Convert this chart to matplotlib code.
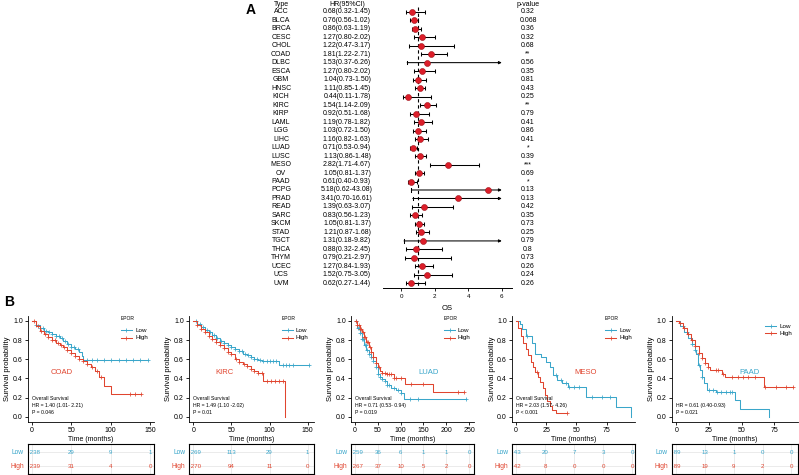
import numpy as np
import matplotlib
matplotlib.use('Agg')
import matplotlib.pyplot as plt
from matplotlib.transforms import blended_transform_factory
from matplotlib.lines import Line2D

plt.rcParams['font.family'] = ['Liberation Sans', 'DejaVu Sans']

# ---------------- Panel A data ----------------
types = ['ACC', 'BLCA', 'BRCA', 'CESC', 'CHOL', 'COAD', 'DLBC', 'ESCA', 'GBM', 'HNSC',
         'KICH', 'KIRC', 'KIRP', 'LAML', 'LGG', 'LIHC', 'LUAD', 'LUSC', 'MESO', 'OV',
         'PAAD', 'PCPG', 'PRAD', 'READ', 'SARC', 'SKCM', 'STAD', 'TGCT', 'THCA', 'THYM',
         'UCEC', 'UCS', 'UVM']
hr = [0.68, 0.76, 0.86, 1.27, 1.22, 1.81, 1.53, 1.27, 1.04, 1.11, 0.44, 1.54, 0.92, 1.19,
      1.03, 1.16, 0.71, 1.13, 2.82, 1.05, 0.61, 5.18, 3.41, 1.39, 0.83, 1.05, 1.21, 1.31,
      0.88, 0.79, 1.27, 1.52, 0.62]
ci_lo = [0.32, 0.56, 0.63, 0.80, 0.47, 1.22, 0.37, 0.80, 0.73, 0.85, 0.11, 1.14, 0.51, 0.78,
         0.72, 0.82, 0.53, 0.86, 1.71, 0.81, 0.40, 0.62, 0.70, 0.63, 0.56, 0.81, 0.87, 0.18,
         0.32, 0.21, 0.84, 0.75, 0.27]
ci_hi = [1.45, 1.02, 1.19, 2.02, 3.17, 2.71, 6.26, 2.02, 1.50, 1.45, 1.78, 2.09, 1.68, 1.82,
         1.50, 1.63, 0.94, 1.48, 4.67, 1.37, 0.93, 43.08, 16.61, 3.07, 1.23, 1.37, 1.68, 9.82,
         2.45, 2.97, 1.93, 3.05, 1.44]
pvals = ['0.32', '0.068', '0.36', '0.32', '0.68', '**', '0.56', '0.35', '0.81', '0.43',
         '0.25', '**', '0.79', '0.41', '0.86', '0.41', '*', '0.39', '***', '0.69',
         '*', '0.13', '0.13', '0.42', '0.35', '0.73', '0.25', '0.79', '0.8', '0.73',
         '0.26', '0.24', '0.26']
forest_ticks = [0, 2, 4, 6]
forest_clip = 6

# ---------------- Panel B data ----------------
km_names = ['COAD', 'KIRC', 'LUAD', 'MESO', 'PAAD']
km_label_group = ['High', 'High', 'Low', 'High', 'Low']
km_xticks = [[0, 50, 100, 150], [0, 50, 100, 150], [0, 50, 100, 150, 200, 250],
             [0, 25, 50, 75], [0, 25, 50, 75]]
km_hr_text = ['HR = 1.40 (1.01- 2.21)', 'HR = 1.49 (1.10 -2.02)', 'HR = 0.71 (0.53- 0.94)',
              'HR = 2.03 (1.57- 4.26)', 'HR = 0.61 (0.40-0.93)']
km_p_text = ['P = 0.046', 'P = 0.01', 'P = 0.019', 'P < 0.001', 'P = 0.021']
km_has_title = [True, True, True, True, False]

coad_low_t = [0, 5, 10, 15, 20, 25, 30, 35, 40, 45, 50, 55, 60, 63, 65, 148]
coad_low_s = [1, 0.96, 0.93, 0.90, 0.88, 0.86, 0.84, 0.82, 0.79, 0.76, 0.73, 0.71, 0.68, 0.63, 0.59, 0.59]
coad_low_c = [5, 10, 14, 18, 22, 26, 30, 34, 38, 42, 46, 50, 54, 58, 70, 76, 82, 91, 101, 110, 119, 129, 137, 148]
coad_high_t = [0, 5, 10, 15, 20, 25, 30, 35, 40, 45, 50, 55, 60, 65, 70, 75, 80, 85, 92, 101, 138]
coad_high_s = [1, 0.95, 0.90, 0.86, 0.83, 0.80, 0.77, 0.75, 0.73, 0.70, 0.67, 0.63, 0.60, 0.58, 0.55, 0.52, 0.48, 0.41, 0.32, 0.24, 0.24]
coad_high_c = [3, 7, 12, 16, 20, 25, 29, 33, 37, 41, 45, 50, 55, 60, 65, 70, 76, 83, 88, 125, 131, 138]

kirc_low_t = [0, 5, 10, 15, 20, 25, 30, 35, 40, 45, 50, 55, 60, 65, 70, 75, 80, 85, 90, 113, 152]
kirc_low_s = [1, 0.97, 0.94, 0.91, 0.88, 0.85, 0.82, 0.79, 0.77, 0.75, 0.73, 0.71, 0.69, 0.66, 0.64, 0.62, 0.60, 0.59, 0.58, 0.545, 0.545]
kirc_low_c = [4, 9, 13, 18, 22, 27, 31, 36, 40, 45, 50, 55, 60, 64, 68, 72, 76, 80, 84, 88, 92, 96, 100, 104, 108, 117, 121, 126, 131, 152]
kirc_high_t = [0, 5, 10, 15, 20, 25, 30, 35, 40, 45, 50, 55, 60, 65, 70, 75, 80, 85, 92, 120]
kirc_high_s = [1, 0.96, 0.92, 0.88, 0.84, 0.81, 0.78, 0.75, 0.72, 0.68, 0.65, 0.60, 0.57, 0.55, 0.53, 0.50, 0.48, 0.46, 0.37, 0.0]
kirc_high_c = [5, 10, 15, 20, 25, 30, 35, 40, 45, 50, 56, 60, 66, 70, 75, 80, 85, 90, 97, 102, 107, 112, 117]

luad_low_t = [0, 5, 10, 15, 20, 25, 30, 35, 40, 45, 50, 55, 60, 65, 70, 80, 90, 100, 107, 243]
luad_low_s = [1, 0.93, 0.87, 0.81, 0.75, 0.70, 0.66, 0.62, 0.58, 0.52, 0.45, 0.41, 0.39, 0.37, 0.33, 0.30, 0.28, 0.25, 0.18, 0.18]
luad_low_c = [3, 6, 9, 12, 15, 18, 21, 24, 27, 30, 35, 40, 45, 50, 55, 60, 65, 70, 75, 85, 95, 100, 120, 138, 243]
luad_high_t = [0, 5, 10, 15, 20, 25, 30, 35, 40, 45, 50, 55, 60, 70, 85, 110, 170, 240]
luad_high_s = [1, 0.96, 0.92, 0.88, 0.83, 0.78, 0.73, 0.68, 0.62, 0.56, 0.52, 0.48, 0.46, 0.45, 0.40, 0.34, 0.26, 0.26]
luad_high_c = [2, 5, 8, 11, 14, 17, 20, 23, 26, 29, 32, 36, 40, 45, 52, 60, 65, 70, 75, 80, 86, 90, 100, 122, 150, 225, 240]

meso_low_t = [0, 3, 5, 8, 13, 16, 21, 25, 28, 31, 34, 38, 43, 58, 83, 95]
meso_low_s = [1, 0.97, 0.92, 0.84, 0.77, 0.66, 0.62, 0.57, 0.52, 0.44, 0.38, 0.35, 0.31, 0.21, 0.105, 0.0]
meso_low_c = [9, 33, 37, 41, 44, 48, 52, 63, 71, 78]
meso_high_t = [0, 2, 4, 6, 8, 10, 12, 14, 16, 18, 20, 22, 24, 26, 28, 30, 33, 42]
meso_high_s = [1, 0.93, 0.84, 0.77, 0.71, 0.64, 0.57, 0.52, 0.47, 0.42, 0.36, 0.30, 0.23, 0.16, 0.11, 0.07, 0.035, 0.035]
meso_high_c = [17, 42]

paad_low_t = [0, 3, 6, 9, 12, 14, 15, 16.5, 18, 20, 21.5, 23.5, 30, 45, 49, 71]
paad_low_s = [1, 0.95, 0.88, 0.82, 0.76, 0.70, 0.66, 0.54, 0.49, 0.42, 0.35, 0.28, 0.26, 0.17, 0.08, 0.0]
paad_low_c = [5, 8, 12, 14, 17, 20, 25, 28, 31, 34, 38, 41, 43]
paad_high_t = [0, 2, 5, 8, 11, 14, 17, 20, 22, 24, 26, 35, 37, 67, 89]
paad_high_s = [1, 0.98, 0.93, 0.86, 0.80, 0.74, 0.67, 0.61, 0.56, 0.52, 0.49, 0.45, 0.42, 0.31, 0.31]
paad_high_c = [3, 6, 9, 12, 14, 17, 20, 22, 24, 30, 32, 36, 43, 47, 51, 55, 60, 68, 76, 84, 89]

km_low = [(coad_low_t, coad_low_s, coad_low_c), (kirc_low_t, kirc_low_s, kirc_low_c),
          (luad_low_t, luad_low_s, luad_low_c), (meso_low_t, meso_low_s, meso_low_c),
          (paad_low_t, paad_low_s, paad_low_c)]
km_high = [(coad_high_t, coad_high_s, coad_high_c), (kirc_high_t, kirc_high_s, kirc_high_c),
           (luad_high_t, luad_high_s, luad_high_c), (meso_high_t, meso_high_s, meso_high_c),
           (paad_high_t, paad_high_s, paad_high_c)]

risk_times = [[0, 50, 100, 150], [0, 50, 100, 150], [0, 50, 100, 150, 200, 250],
              [0, 24, 48, 72, 96], [0, 22, 44, 66, 88]]
risk_low = [[238, 29, 9, 1], [269, 113, 29, 1], [259, 36, 6, 1, 1, 0],
            [43, 20, 7, 3, 0], [89, 13, 1, 0, 0]]
risk_high = [[239, 31, 4, 0], [270, 94, 11, 0], [267, 37, 10, 5, 2, 0],
             [42, 8, 0, 0, 0], [89, 19, 9, 2, 0]]

# ---------------- layout / style ----------------
W, H = 799, 475
C_LOW = '#3AA6CA'
C_HIGH = '#E0452F'
C_DOT = '#DC1E2A'

fig = plt.figure(figsize=(W / 100, H / 100), dpi=100)


def fx(x):
    return x / W


def fy(y):
    return 1 - y / H


def ax_at(x0, y0, x1, y1):
    return fig.add_axes([fx(x0), fy(y1), (x1 - x0) / W, (y1 - y0) / H])


# ---------------- Panel A: forest ----------------
fa_x0, fa_x1, fa_zero, fa_scale = 383, 512, 401, 16.8
row0, rowstep, fa_bottom = 11.7, 8.49, 288
axf = ax_at(fa_x0, 0, fa_x1, fa_bottom)
axf.set_xlim((fa_x0 - fa_zero) / fa_scale, (fa_x1 - fa_zero) / fa_scale)
axf.set_ylim((fa_bottom - row0) / rowstep, (0 - row0) / rowstep)
for s in ['top', 'right', 'left']:
    axf.spines[s].set_visible(False)
axf.spines['bottom'].set_linewidth(0.7)
axf.set_yticks([])
axf.set_xticks(forest_ticks)
axf.tick_params(axis='x', labelsize=4.5, length=2.5, width=0.6, pad=2)
axf.set_xlabel('OS', fontsize=5.5, labelpad=4)
axf.patch.set_alpha(0)

n = len(types)
ys = np.arange(n)
axf.vlines(1, -0.5, (fa_bottom - row0) / rowstep, colors='black', linestyles=(0, (3, 2.5)), lw=0.8)
for i in range(n):
    lo, hi_ = ci_lo[i], ci_hi[i]
    if hi_ > forest_clip:
        axf.annotate('', xy=(forest_clip, i), xytext=(lo, i),
                     arrowprops=dict(arrowstyle='-|>', lw=0.75, color='black',
                                     mutation_scale=4, shrinkA=0, shrinkB=0))
        axf.plot([lo, lo], [i - 0.2, i + 0.2], color='black', lw=0.75)
    else:
        axf.errorbar(hr[i], i, xerr=[[hr[i] - lo], [hi_ - hr[i]]], fmt='none',
                     ecolor='black', elinewidth=0.75, capsize=1.2, capthick=0.75)
axf.plot(hr, ys, 'o', color=C_DOT, markeredgecolor='#9E1018', markeredgewidth=0.4,
         markersize=4.3, zorder=5)

tb = blended_transform_factory(fig.transFigure, axf.transData)
hdr = (4 - row0) / rowstep
fs_tab = 5
axf.text(fx(281), hdr, 'Type', transform=tb, ha='center', va='center', fontsize=fs_tab)
axf.text(fx(347), hdr, 'HR(95%CI)', transform=tb, ha='center', va='center', fontsize=fs_tab)
axf.text(fx(528), hdr, 'p-value', transform=tb, ha='center', va='center', fontsize=fs_tab)
for i in range(n):
    axf.text(fx(281), i, types[i], transform=tb, ha='center', va='center', fontsize=fs_tab)
    axf.text(fx(347), i, f'{hr[i]:.2f}({ci_lo[i]:.2f}-{ci_hi[i]:.2f})', transform=tb,
             ha='center', va='center', fontsize=fs_tab)
    axf.text(fx(528), i, pvals[i], transform=tb, ha='center', va='center', fontsize=fs_tab)

fig.text(fx(246), fy(10), 'A', fontsize=10, fontweight='bold', ha='left', va='center')
fig.text(fx(4), fy(302), 'B', fontsize=10, fontweight='bold', ha='left', va='center')

# ---------------- Panel B: KM ----------------
# (spine px, zero px, px per month, right px)
geo = [(28, 32, 0.7867, 154), (189, 193.3, 0.7627, 314), (351, 355, 0.456, 474),
       (512, 516, 1.209, 635), (671.7, 676.3, 1.3067, 798)]
km_top, km_bot = 316.2, 421.5
tab_top, tab_bot = 444, 474
label_pos = [(62, 372), (224, 372), (429, 372), (586, 372), (750, 372)]
fs_ann = 3.7


def surv_at(t_knots, s_knots, tc):
    idx = np.searchsorted(np.asarray(t_knots), np.asarray(tc), side='right') - 1
    return np.asarray(s_knots)[idx]


for k in range(5):
    sp, z, sc, rt = geo[k]
    xa, xb = -(z - sp) / sc, (rt - z) / sc
    ax = ax_at(sp, km_top, rt, km_bot)
    ax.set_xlim(xa, xb)
    ax.set_ylim(-0.05, 1.05)
    for s in ['top', 'right']:
        ax.spines[s].set_visible(False)
    for s in ['left', 'bottom']:
        ax.spines[s].set_linewidth(0.6)
    ax.set_xticks(km_xticks[k])
    ax.set_yticks([0, 0.2, 0.4, 0.6, 0.8, 1.0])
    ax.set_yticklabels(['0.0', '0.2', '0.4', '0.6', '0.8', '1.0'])
    ax.tick_params(labelsize=5, length=2.2, width=0.6, pad=1.5)
    ax.set_xlabel('Time (months)', fontsize=5)
    ax.xaxis.set_label_coords(0.5, -(436 - km_bot) / (km_bot - km_top))
    ax.set_ylabel('Survival probability', fontsize=5.5)
    ax.yaxis.set_label_coords(-20 / (rt - sp), 0.5)
    ax.yaxis.label.set_va('center')
    ax.patch.set_alpha(0)

    for (tk, sk, cen), col in [(km_low[k], C_LOW), (km_high[k], C_HIGH)]:
        ax.plot(tk, sk, drawstyle='steps-post', color=col, lw=0.75)
        ax.plot(cen, surv_at(tk, sk, cen), '+', color=col, markersize=3.2, mew=0.55)

    # annotations
    if k < 4:
        fig.text(fx(z), fy(398), 'Overall Survival', fontsize=fs_ann, ha='left', va='center')
    fig.text(fx(z), fy(406), km_hr_text[k], fontsize=fs_ann, ha='left', va='center')
    fig.text(fx(z), fy(413), km_p_text[k], fontsize=fs_ann, ha='left', va='center')
    lx, ly = label_pos[k]
    fig.text(fx(lx), fy(ly), km_names[k], fontsize=5.5,
             color=C_HIGH if km_label_group[k] == 'High' else C_LOW, ha='center', va='center')

    # legend
    if km_has_title[k]:
        lg = sp + 93
        fig.text(fx(lg), fy(318), 'EPOR', fontsize=3.6, ha='left', va='center')
        rows = [('Low', C_LOW, 330), ('High', C_HIGH, 338)]
    else:
        lg = 765
        rows = [('Low', C_LOW, 326), ('High', C_HIGH, 333)]
    for name, col, yy in rows:
        fig.add_artist(Line2D([fx(lg), fx(lg + 11)], [fy(yy), fy(yy)], color=col, lw=0.75))
        fig.add_artist(Line2D([fx(lg + 5.5)], [fy(yy)], marker='+', color=col,
                              markersize=3.2, mew=0.55))
        fig.text(fx(lg + 14), fy(yy), name, fontsize=4.5, ha='left', va='center')

    # risk table
    axt = ax_at(sp, tab_top, rt, tab_bot)
    axt.set_xlim(xa, xb)
    axt.set_ylim(0.4, 2.6)
    axt.set_xticks(risk_times[k])
    axt.set_yticks([1, 2])
    axt.grid(True, color='#E3E3E3', lw=0.5)
    axt.tick_params(length=0, labelbottom=False, labelleft=False)
    for s in axt.spines.values():
        s.set_linewidth(0.8)
    tb2 = blended_transform_factory(axt.transData, axt.transData)
    for row_vals, yrow, col in [(risk_low[k], 1.94, C_LOW), (risk_high[k], 0.98, C_HIGH)]:
        for j, (t, v) in enumerate(zip(risk_times[k], row_vals)):
            if j == 0:
                axt.text(xa, yrow, ' ' + str(v), color=col, fontsize=4.4, ha='left', va='center')
            else:
                axt.text(t, yrow, str(v), color=col, fontsize=4.4, ha='center', va='center')
    fig.text(fx(sp - 4), fy(453), 'Low', color=C_LOW, fontsize=4.8, ha='right', va='center')
    fig.text(fx(sp - 4), fy(466), 'High', color=C_HIGH, fontsize=4.8, ha='right', va='center')

fig.savefig('out.png', dpi=100)
